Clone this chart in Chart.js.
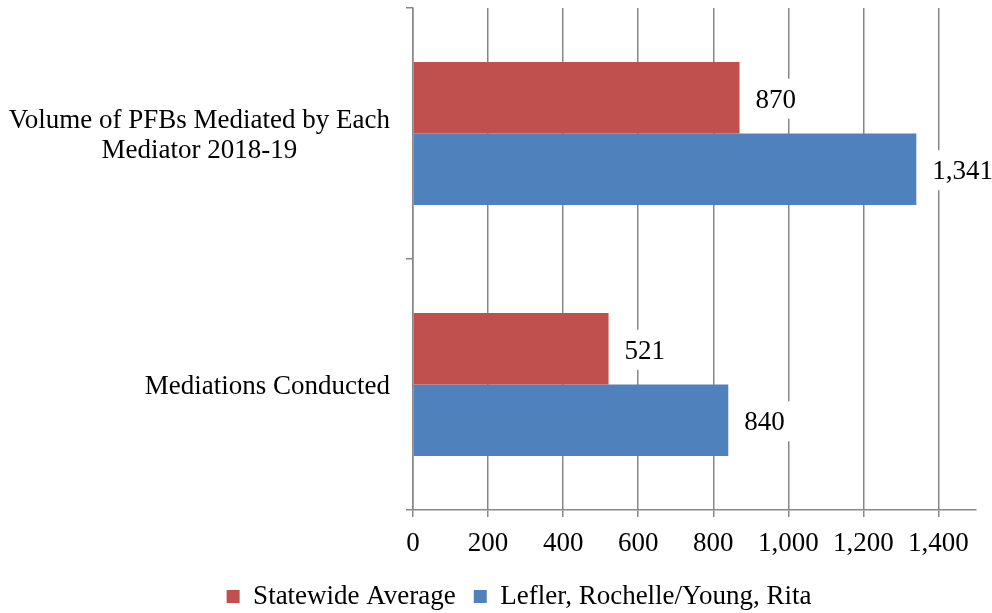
<!DOCTYPE html>
<html>
<head>
<meta charset="utf-8">
<script src="https://cdn.jsdelivr.net/npm/chart.js@4/dist/chart.umd.min.js"></script>
<style>
  html, body { margin: 0; padding: 0; background: #fff; }
  #wrap { width: 992px; height: 613px; }
</style>
</head>
<body>
<div id="wrap"><canvas id="chart"></canvas></div>
<script>
// Data
const categories = [['Volume of PFBs Mediated by Each', 'Mediator 2018-19'], ['Mediations Conducted']];
const seriesNames = ['Statewide Average', 'Lefler, Rochelle/Young, Rita'];
const statewideAverage = [870, 521];
const leflerYoung = [1341, 840];
const xTickValues = [0, 200, 400, 600, 800, 1000, 1200, 1400];

const FONT = "'Liberation Serif', 'Times New Roman', serif";
const GRID = '#878787';
Chart.defaults.font.family = FONT;
Chart.defaults.font.size = 27;
Chart.defaults.color = '#000';

// Category labels: block right-aligned, lines centred in the block (Excel style)
const categoryLabels = {
    id: 'categoryLabels',
    afterDraw(chart) {
        const ctx = chart.ctx, yScale = chart.scales.y;
        ctx.save();
        ctx.font = '27px ' + FONT;
        ctx.fillStyle = '#000';
        ctx.textAlign = 'center';
        ctx.textBaseline = 'middle';
        categories.forEach((lines, i) => {
            const cy = yScale.getPixelForValue(i) + 2;
            const blockW = Math.max(...lines.map(l => ctx.measureText(l).width));
            const cx = 390 - blockW / 2;
            const lh = 30;
            lines.forEach((line, j) => {
                ctx.fillText(line, cx, cy + (j - (lines.length - 1) / 2) * lh);
            });
        });
        ctx.restore();
    }
};

// Value labels with white box behind them
const valueLabels = {
    id: 'valueLabels',
    afterDatasetsDraw(chart) {
        const ctx = chart.ctx;
        ctx.save();
        ctx.font = '27px ' + FONT;
        ctx.textBaseline = 'middle';
        ctx.textAlign = 'left';
        chart.data.datasets.forEach((ds, di) => {
            chart.getDatasetMeta(di).data.forEach((bar, i) => {
                const txt = ds.data[i].toLocaleString('en-US');
                const w = ctx.measureText(txt).width;
                ctx.fillStyle = '#fff';
                ctx.fillRect(bar.x + 8, bar.y - 19, w + 16, 40);
                ctx.fillStyle = '#000';
                ctx.fillText(txt, bar.x + 16, bar.y + 3);
            });
        });
        ctx.restore();
    }
};

new Chart(document.getElementById('chart'), {
    type: 'bar',
    data: {
        labels: categories,
        datasets: [
            { label: seriesNames[0], data: statewideAverage, backgroundColor: '#C0504D', borderWidth: 0 },
            { label: seriesNames[1], data: leflerYoung, backgroundColor: '#4F81BD', borderWidth: 0 }
        ]
    },
    options: {
        indexAxis: 'y',
        responsive: true,
        maintainAspectRatio: false,
        animation: false,
        events: [],
        categoryPercentage: 0.57,
        barPercentage: 1.0,
        layout: { padding: { top: 8, left: 62, right: 16, bottom: -7 } },
        scales: {
            x: {
                min: 0,
                max: 1500,
                afterBuildTicks: axis => { axis.ticks = xTickValues.map(v => ({ value: v })); },
                afterFit: axis => { axis.height = 55; },
                ticks: {
                    padding: 11,
                    maxRotation: 0,
                    callback: v => Number(v).toLocaleString('en-US')
                },
                grid: { color: GRID, lineWidth: 1.5, tickLength: 7 },
                border: { color: GRID, width: 1.5 }
            },
            y: {
                afterFit: axis => { axis.width = 413 - 62; },
                ticks: { display: false },
                grid: { offset: true, drawOnChartArea: false, color: GRID, lineWidth: 1.5, tickLength: 7 },
                border: { color: GRID, width: 1.5 }
            }
        },
        plugins: {
            legend: {
                position: 'bottom',
                labels: { boxWidth: 13, boxHeight: 13, padding: 18, color: '#000', font: { size: 27 } }
            },
            tooltip: { enabled: false }
        }
    },
    plugins: [categoryLabels, valueLabels]
});
</script>
</body>
</html>
